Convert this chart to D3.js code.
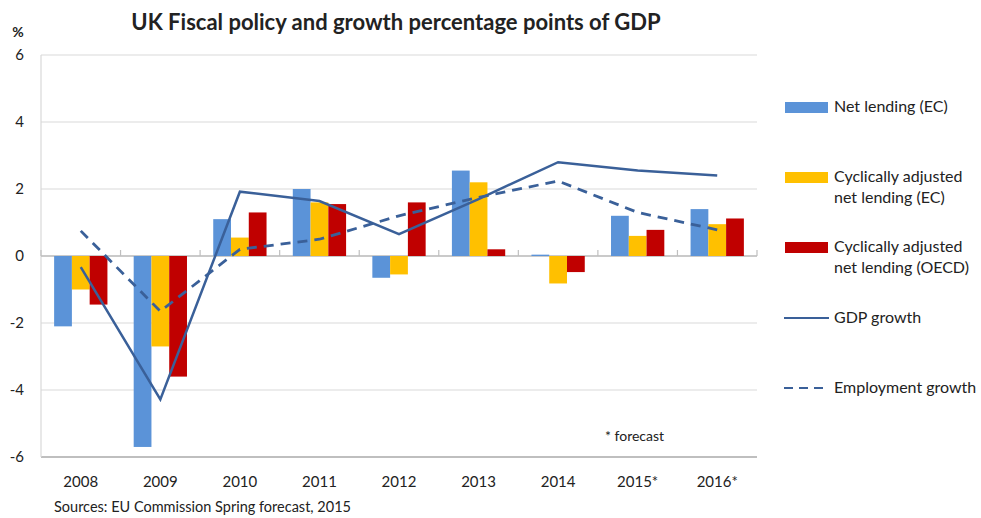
<meta charset="utf-8" />
<script src="https://d3js.org/d3.v7.min.js"></script>
<style>
  body { margin: 0; background: #fff; }
  svg text { font-family: "Lato", "Open Sans", sans-serif; fill: #222; }
</style>
<svg width="981" height="518"></svg>
<script>
  // data
  var years = ["2008", "2009", "2010", "2011", "2012", "2013", "2014", "2015*", "2016*"];
  var netLendingEC = [-2.1, -5.7, 1.1, 2.0, -0.65, 2.55, 0.04, 1.2, 1.4];
  var cycAdjEC = [-1.0, -2.7, 0.55, 1.6, -0.55, 2.2, -0.82, 0.6, 0.95];
  var cycAdjOECD = [-1.45, -3.6, 1.3, 1.55, 1.6, 0.2, -0.48, 0.78, 1.12];
  var gdpGrowth = [-0.33, -4.28, 1.92, 1.64, 0.65, 1.7, 2.8, 2.55, 2.4];
  var employmentGrowth = [0.75, -1.65, 0.2, 0.5, 1.2, 1.75, 2.24, 1.3, 0.78];
  var yTicks = [-6, -4, -2, 0, 2, 4, 6];

  var barSeries = [
    { name: "Net lending (EC)", values: netLendingEC, color: "#5B93D8" },
    { name: "Cyclically adjusted net lending (EC)", values: cycAdjEC, color: "#FFC000" },
    { name: "Cyclically adjusted net lending (OECD)", values: cycAdjOECD, color: "#C00000" }
  ];
  var lineColor = "#3A6099";

  var svg = d3.select("svg");
  var plotLeft = 41, plotRight = 757, plotTop = 55, plotBottom = 457;

  var x = d3.scaleBand().domain(years).range([plotLeft, plotRight]).paddingInner(0.33).paddingOuter(0.165);
  var x1 = d3.scaleBand().domain(d3.range(barSeries.length)).range([0, x.bandwidth()]);
  var y = d3.scaleLinear().domain([-6, 6]).range([plotBottom, plotTop]);

  // title
  svg.append("text")
    .attr("x", 396).attr("y", 30)
    .attr("text-anchor", "middle")
    .style("font-size", "22px").style("font-weight", "bold")
    .text("UK Fiscal policy and growth percentage points of GDP");

  svg.append("text").attr("x", 18).attr("y", 37).attr("text-anchor", "middle")
    .style("font-size", "14px").style("font-weight", "bold").text("%");

  // gridlines
  svg.append("g").selectAll("line").data(yTicks).enter().append("line")
    .attr("x1", plotLeft).attr("x2", plotRight)
    .attr("y1", function (d) { return y(d); }).attr("y2", function (d) { return y(d); })
    .attr("stroke", function (d) { return d === -6 ? "#bfbfbf" : "#d9d9d9"; })
    .attr("stroke-width", function (d) { return d === -6 ? 2 : 1.2; });

  svg.append("line").attr("x1", plotLeft).attr("x2", plotLeft).attr("y1", plotTop).attr("y2", plotBottom)
    .attr("stroke", "#d9d9d9").attr("stroke-width", 1.2);

  // y labels
  svg.append("g").selectAll("text").data(yTicks).enter().append("text")
    .attr("x", 24).attr("y", function (d) { return y(d) + 5; })
    .attr("text-anchor", "end").style("font-size", "15px")
    .text(function (d) { return d; });

  // zero axis with ticks at category boundaries
  svg.append("line").attr("x1", plotLeft).attr("x2", plotRight).attr("y1", y(0)).attr("y2", y(0))
    .attr("stroke", "#bfbfbf").attr("stroke-width", 1.5);
  var step = x.step();
  svg.append("g").selectAll("line").data(d3.range(years.length + 1)).enter().append("line")
    .attr("x1", function (i) { return plotLeft + i * step; })
    .attr("x2", function (i) { return plotLeft + i * step; })
    .attr("y1", y(0)).attr("y2", y(0) - 6)
    .attr("stroke", "#bfbfbf").attr("stroke-width", 1.2);

  // bars
  barSeries.forEach(function (s, si) {
    svg.append("g").selectAll("rect").data(s.values).enter().append("rect")
      .attr("x", function (d, i) { return x(years[i]) + x1(si); })
      .attr("width", x1.bandwidth())
      .attr("y", function (d) { return y(Math.max(0, d)); })
      .attr("height", function (d) { return Math.abs(y(d) - y(0)); })
      .attr("fill", s.color);
  });

  // lines
  var line = d3.line()
    .x(function (d, i) { return x(years[i]) + x.bandwidth() / 2; })
    .y(function (d) { return y(d); });

  svg.append("path").datum(gdpGrowth).attr("d", line)
    .attr("fill", "none").attr("stroke", lineColor).attr("stroke-width", 2.5);
  svg.append("path").datum(employmentGrowth).attr("d", line)
    .attr("fill", "none").attr("stroke", lineColor).attr("stroke-width", 2.8)
    .attr("stroke-dasharray", "10,7");

  // x labels
  svg.append("g").selectAll("text").data(years).enter().append("text")
    .attr("x", function (d) { return x(d) + x.bandwidth() / 2; })
    .attr("y", 487).attr("text-anchor", "middle").style("font-size", "15px")
    .text(function (d) { return d; });

  svg.append("text").attr("x", 605).attr("y", 441).style("font-size", "14px").text("* forecast");
  svg.append("text").attr("x", 54).attr("y", 512).style("font-size", "14.5px")
    .text("Sources: EU Commission Spring forecast, 2015");

  // legend
  var legend = [
    { type: "rect", color: barSeries[0].color, y: 107, lines: ["Net lending (EC)"] },
    { type: "rect", color: barSeries[1].color, y: 177, lines: ["Cyclically adjusted", "net lending (EC)"] },
    { type: "rect", color: barSeries[2].color, y: 247, lines: ["Cyclically adjusted", "net lending (OECD)"] },
    { type: "solid", color: lineColor, y: 318, lines: ["GDP growth"] },
    { type: "dash", color: lineColor, y: 388, lines: ["Employment growth"] }
  ];
  var lg = svg.append("g");
  legend.forEach(function (l) {
    if (l.type === "rect") {
      lg.append("rect").attr("x", 785).attr("y", l.y - 5).attr("width", 43).attr("height", 11).attr("fill", l.color);
    } else {
      lg.append("line").attr("x1", 784).attr("x2", 829).attr("y1", l.y).attr("y2", l.y)
        .attr("stroke", l.color).attr("stroke-width", 2.2)
        .attr("stroke-dasharray", l.type === "dash" ? "9,6" : null);
    }
    l.lines.forEach(function (t, k) {
      lg.append("text").attr("x", 834).attr("y", l.y + 5 + k * 21)
        .style("font-size", "16px").text(t);
    });
  });
</script>
